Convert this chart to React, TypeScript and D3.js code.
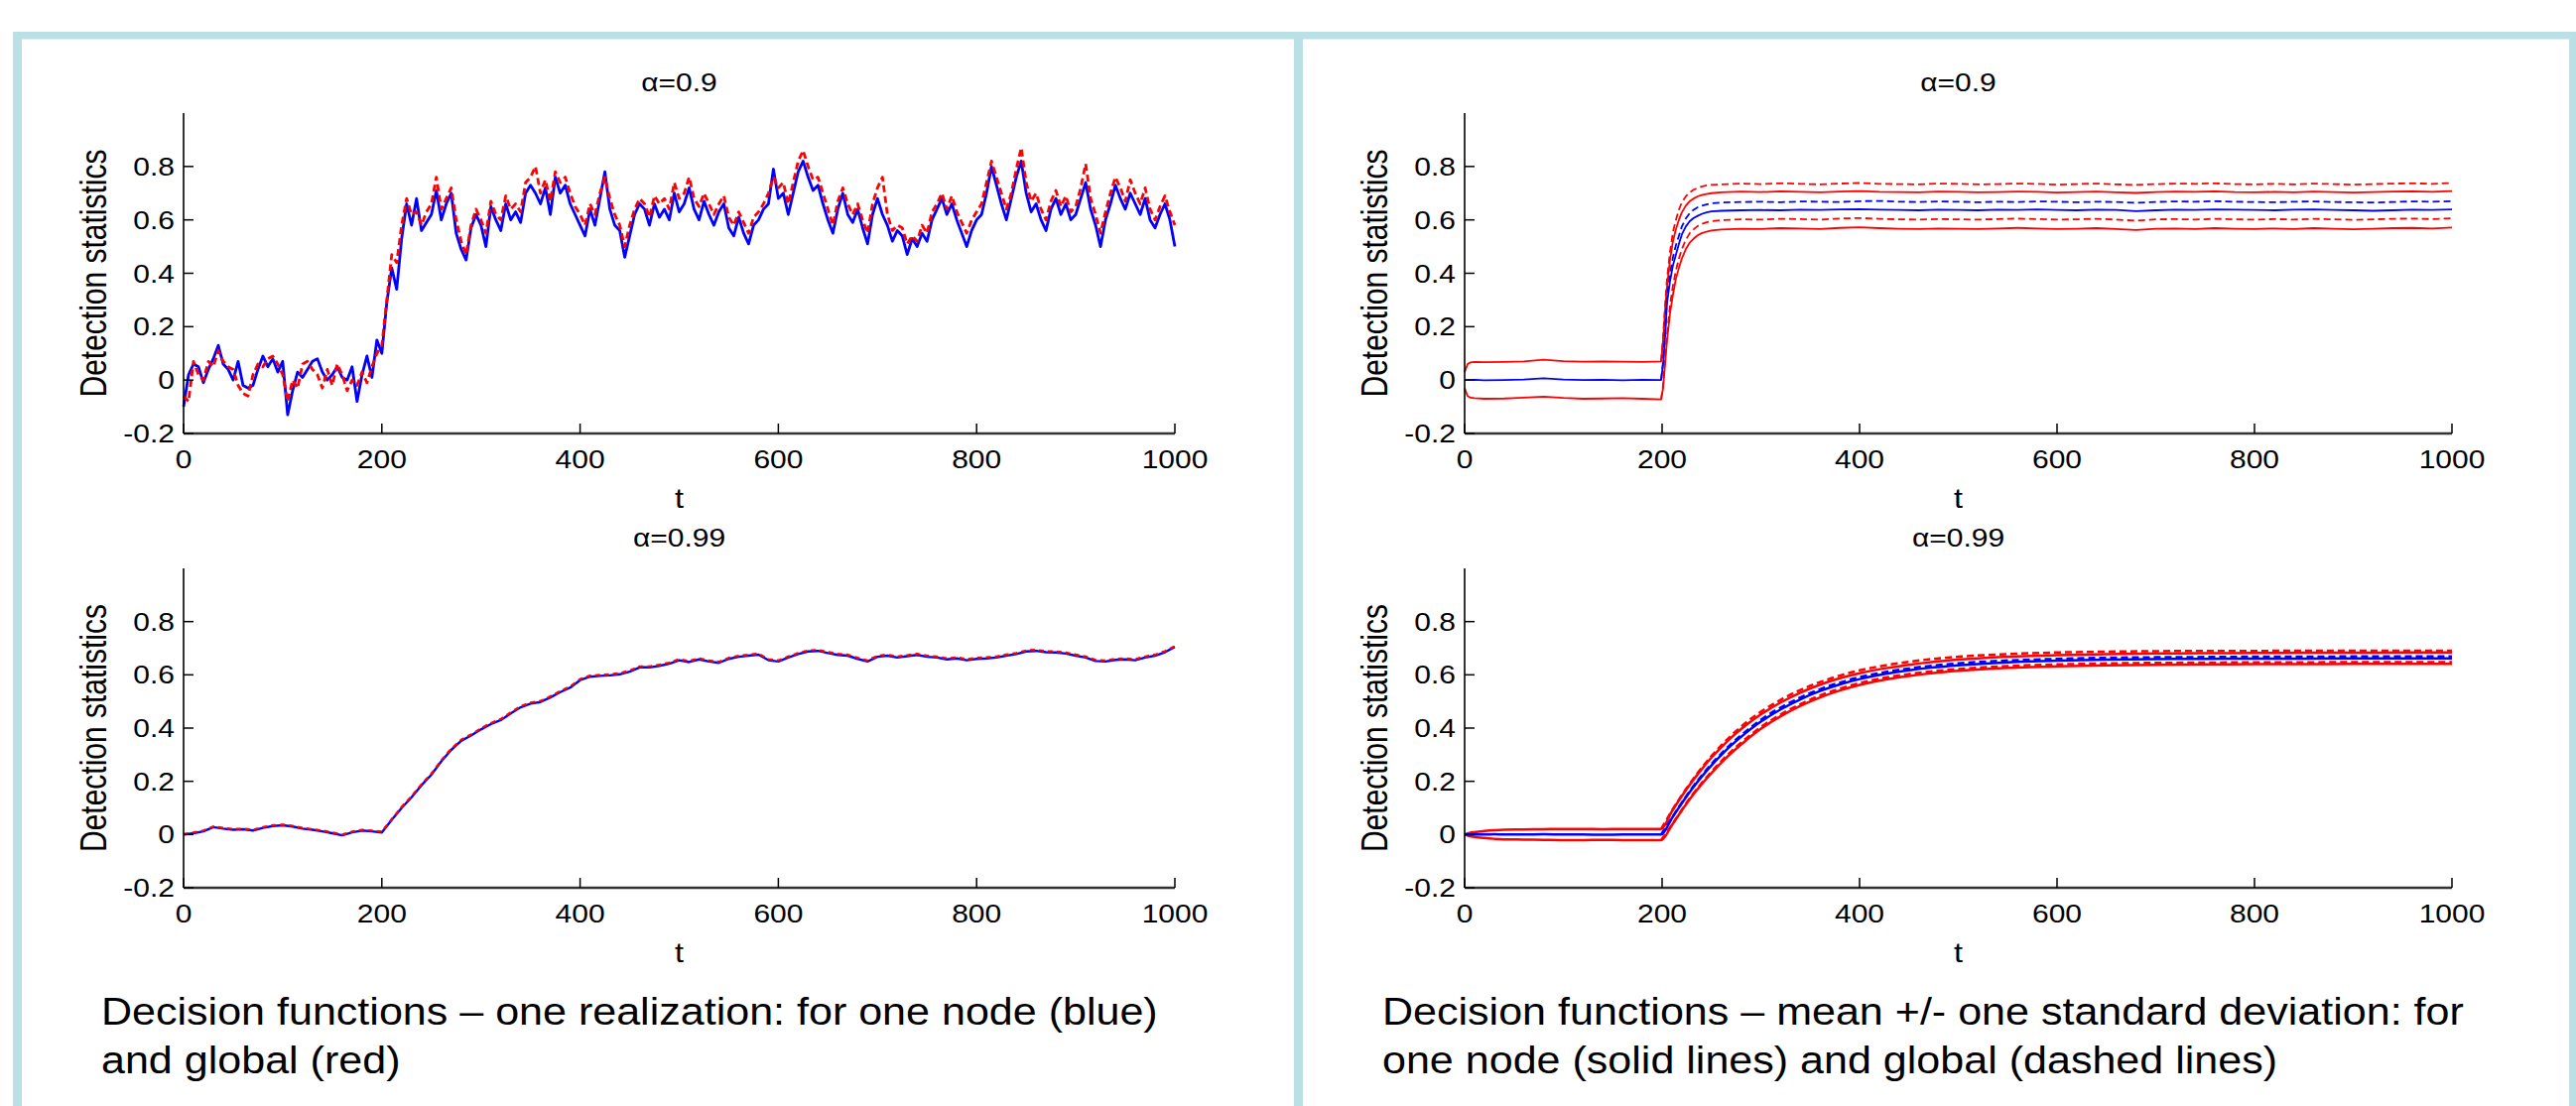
import React, { useEffect } from "react";
import * as d3 from "d3";

// ---------- tick labels ----------
const yTickValues = [-0.2, 0, 0.2, 0.4, 0.6, 0.8];
const yTickLabels = ["-0.2", "0", "0.2", "0.4", "0.6", "0.8"];
const xTickValues = [0, 200, 400, 600, 800, 1000];
const xTickLabels = ["0", "200", "400", "600", "800", "1000"];

// ---------- top-left: one realization, alpha = 0.9 (t = 0..1000 step 5) ----------
const tStep5 = d3.range(0, 1001, 5);
const nodeReal09 = [
  -0.10, 0.02, 0.06, 0.05, -0.01, 0.04, 0.08, 0.13, 0.06, 0.04,
  0.00, 0.07, -0.02, -0.03, -0.02, 0.04, 0.09, 0.05, 0.08, 0.03,
  0.07, -0.13, -0.04, 0.03, 0.01, 0.04, 0.07, 0.08, 0.03, 0.00,
  0.02, 0.05, 0.01, 0.00, 0.05, -0.08, 0.02, 0.09, 0.01, 0.15,
  0.10, 0.29, 0.42, 0.34, 0.53, 0.66, 0.58, 0.68, 0.56, 0.59,
  0.62, 0.71, 0.60, 0.66, 0.70, 0.55, 0.49, 0.45, 0.57, 0.62,
  0.58, 0.50, 0.65, 0.60, 0.56, 0.66, 0.60, 0.63, 0.59, 0.70,
  0.73, 0.70, 0.66, 0.72, 0.62, 0.76, 0.70, 0.73, 0.66, 0.62,
  0.58, 0.54, 0.64, 0.58, 0.68, 0.78, 0.64, 0.58, 0.56, 0.46,
  0.54, 0.62, 0.66, 0.64, 0.58, 0.66, 0.61, 0.64, 0.60, 0.70,
  0.63, 0.66, 0.72, 0.64, 0.60, 0.67, 0.62, 0.58, 0.63, 0.66,
  0.57, 0.54, 0.61, 0.55, 0.51, 0.58, 0.60, 0.64, 0.66, 0.79,
  0.68, 0.70, 0.62, 0.70, 0.78, 0.82, 0.76, 0.71, 0.73, 0.66,
  0.60, 0.55, 0.64, 0.70, 0.62, 0.59, 0.64, 0.57, 0.51, 0.62,
  0.68, 0.62, 0.58, 0.52, 0.56, 0.54, 0.47, 0.53, 0.50, 0.55,
  0.52, 0.60, 0.64, 0.68, 0.62, 0.66, 0.60, 0.55, 0.50, 0.56,
  0.60, 0.62, 0.70, 0.80, 0.73, 0.66, 0.60, 0.68, 0.76, 0.82,
  0.70, 0.63, 0.66, 0.60, 0.56, 0.64, 0.68, 0.62, 0.66, 0.60,
  0.62, 0.68, 0.74, 0.64, 0.58, 0.50, 0.60, 0.66, 0.73, 0.68,
  0.64, 0.70, 0.66, 0.62, 0.68, 0.60, 0.57, 0.62, 0.66, 0.60,
  0.50,
];
const globalReal09 = [
  -0.06, -0.08, 0.07, 0.02, 0.00, 0.07, 0.05, 0.11, 0.07, 0.05,
  0.04, -0.02, -0.05, -0.06, 0.02, 0.06, 0.05, 0.08, 0.09, 0.06,
  0.02, -0.08, 0.00, -0.03, 0.06, 0.07, 0.04, 0.02, -0.03, 0.04,
  -0.02, 0.06, 0.02, -0.04, 0.00, -0.02, 0.03, -0.01, 0.05, 0.10,
  0.13, 0.30, 0.47, 0.44, 0.58, 0.68, 0.62, 0.63, 0.58, 0.63,
  0.66, 0.76, 0.64, 0.68, 0.72, 0.60, 0.52, 0.47, 0.58, 0.64,
  0.60, 0.55, 0.67, 0.62, 0.60, 0.69, 0.64, 0.66, 0.63, 0.74,
  0.76, 0.80, 0.70, 0.75, 0.67, 0.78, 0.74, 0.76, 0.70, 0.65,
  0.62, 0.58, 0.66, 0.62, 0.70, 0.76, 0.68, 0.62, 0.58, 0.50,
  0.58, 0.64, 0.68, 0.66, 0.61, 0.69, 0.66, 0.68, 0.64, 0.74,
  0.68, 0.70, 0.76, 0.68, 0.65, 0.70, 0.66, 0.62, 0.66, 0.69,
  0.61, 0.58, 0.63, 0.59, 0.55, 0.61, 0.63, 0.66, 0.70, 0.76,
  0.72, 0.74, 0.66, 0.74, 0.82, 0.86, 0.80, 0.75, 0.76, 0.70,
  0.64, 0.58, 0.67, 0.72, 0.66, 0.62, 0.66, 0.60, 0.55, 0.66,
  0.72, 0.76, 0.62, 0.56, 0.58, 0.57, 0.51, 0.54, 0.52, 0.58,
  0.55, 0.63, 0.66, 0.70, 0.64, 0.69, 0.63, 0.59, 0.55, 0.60,
  0.63, 0.66, 0.74, 0.82, 0.76, 0.70, 0.64, 0.70, 0.79, 0.87,
  0.74, 0.67, 0.70, 0.64, 0.60, 0.67, 0.71, 0.65, 0.69, 0.63,
  0.65, 0.72, 0.81, 0.68, 0.62, 0.55, 0.63, 0.70, 0.76, 0.72,
  0.67, 0.75, 0.70, 0.66, 0.72, 0.64, 0.60, 0.65, 0.69, 0.63,
  0.58,
];

// ---------- bottom-left: one realization, alpha = 0.99 (t = 0..1000 step 10) ----------
const tStep10 = d3.range(0, 1001, 10);
const nodeReal099 = [
  0.000, 0.005, 0.012, 0.028, 0.022, 0.018, 0.020, 0.015, 0.025, 0.032,
  0.035, 0.030, 0.022, 0.018, 0.012, 0.005, -0.003, 0.008, 0.015, 0.012,
  0.008, 0.055, 0.100, 0.140, 0.185, 0.225, 0.275, 0.318, 0.352, 0.372,
  0.395, 0.415, 0.430, 0.455, 0.478, 0.492, 0.498, 0.515, 0.535, 0.552,
  0.580, 0.593, 0.596, 0.598, 0.602, 0.612, 0.628, 0.628, 0.634, 0.642,
  0.655, 0.648, 0.658, 0.650, 0.645, 0.660, 0.668, 0.672, 0.676, 0.655,
  0.650, 0.665, 0.678, 0.688, 0.690, 0.682, 0.675, 0.672, 0.660, 0.650,
  0.668, 0.672, 0.665, 0.670, 0.675, 0.668, 0.665, 0.658, 0.662, 0.655,
  0.660, 0.662, 0.665, 0.672, 0.678, 0.688, 0.690, 0.685, 0.684, 0.680,
  0.672, 0.665, 0.652, 0.650, 0.656, 0.658, 0.655, 0.665, 0.672, 0.685,
  0.705,
];
const globalReal099 = [
  0.002, 0.008, 0.015, 0.030, 0.025, 0.021, 0.022, 0.018, 0.028, 0.035,
  0.037, 0.033, 0.025, 0.020, 0.015, 0.008, 0.000, 0.011, 0.018, 0.015,
  0.011, 0.058, 0.104, 0.144, 0.189, 0.229, 0.279, 0.322, 0.356, 0.376,
  0.399, 0.419, 0.434, 0.459, 0.482, 0.496, 0.502, 0.519, 0.539, 0.556,
  0.584, 0.597, 0.600, 0.602, 0.606, 0.616, 0.632, 0.632, 0.638, 0.646,
  0.659, 0.652, 0.662, 0.654, 0.649, 0.664, 0.672, 0.676, 0.680, 0.659,
  0.654, 0.669, 0.682, 0.692, 0.694, 0.686, 0.679, 0.676, 0.664, 0.654,
  0.672, 0.676, 0.669, 0.674, 0.679, 0.672, 0.669, 0.662, 0.666, 0.659,
  0.664, 0.666, 0.669, 0.676, 0.682, 0.692, 0.694, 0.689, 0.688, 0.684,
  0.676, 0.669, 0.656, 0.654, 0.660, 0.662, 0.659, 0.669, 0.676, 0.689,
  0.708,
];

// ---------- top-right: mean +/- std, alpha = 0.9 ----------
const tNode09 = [
  0, 3, 6, 10, 20, 40, 60, 80, 100, 120, 140, 160, 180, 199,
  201, 203, 205, 208, 211, 214, 217, 220, 224, 228, 232, 236, 240, 245, 250,
  260, 280, 300, 320, 340, 360, 380, 400, 420, 440, 460, 480, 500, 520, 540,
  560, 580, 600, 620, 640, 660, 680, 700, 720, 740, 760, 780, 800, 820, 840,
  860, 880, 900, 920, 940, 960, 980, 1000,
];
const nodeMean09 = [
  0.000, 0.000, 0.000, 0.001, -0.001, 0.000, 0.002, 0.007, 0.002, 0.000, 0.001, -0.001, 0.001, 0.000,
  0.06, 0.16, 0.29, 0.37, 0.43, 0.47, 0.51, 0.545, 0.575, 0.595, 0.607, 0.615, 0.622, 0.628, 0.632,
  0.634, 0.636, 0.637, 0.636, 0.638, 0.637, 0.639, 0.640, 0.638, 0.637, 0.636, 0.638, 0.637, 0.636,
  0.638, 0.637, 0.639, 0.637, 0.636, 0.638, 0.637, 0.633, 0.636, 0.638, 0.637, 0.639, 0.638, 0.637,
  0.636, 0.638, 0.639, 0.637, 0.636, 0.634, 0.636, 0.638, 0.637, 0.639,
];
const nodeUpper09 = [
  0.030, 0.060, 0.066, 0.068, 0.067, 0.068, 0.070, 0.076, 0.071, 0.069, 0.070, 0.069, 0.068, 0.070,
  0.15, 0.26, 0.35, 0.45, 0.52, 0.565, 0.60, 0.628, 0.653, 0.670, 0.680, 0.688, 0.693, 0.697, 0.700,
  0.703, 0.706, 0.704, 0.707, 0.705, 0.703, 0.706, 0.708, 0.705, 0.704, 0.703, 0.706, 0.705, 0.703,
  0.704, 0.706, 0.705, 0.702, 0.704, 0.706, 0.703, 0.701, 0.704, 0.706, 0.705, 0.707, 0.704, 0.703,
  0.705, 0.703, 0.706, 0.704, 0.702, 0.704, 0.706, 0.707, 0.705, 0.708,
];
const nodeLower09 = [
  -0.030, -0.060, -0.066, -0.068, -0.070, -0.069, -0.066, -0.062, -0.067, -0.070, -0.069, -0.068, -0.070, -0.072,
  -0.03, 0.06, 0.15, 0.25, 0.32, 0.38, 0.42, 0.455, 0.49, 0.515, 0.53, 0.542, 0.55, 0.556, 0.560,
  0.564, 0.567, 0.566, 0.569, 0.568, 0.566, 0.570, 0.572, 0.569, 0.567, 0.566, 0.568, 0.567, 0.566,
  0.568, 0.570, 0.568, 0.566, 0.567, 0.569, 0.566, 0.562, 0.567, 0.568, 0.566, 0.569, 0.567, 0.566,
  0.568, 0.566, 0.569, 0.567, 0.565, 0.567, 0.569, 0.570, 0.568, 0.571,
];
const tGlobal09 = [
  199, 201, 203, 205, 208, 211, 214, 217, 220, 224, 228, 232, 236, 240, 245, 250,
  260, 280, 300, 320, 340, 360, 380, 400, 420, 440, 460, 480, 500, 520, 540,
  560, 580, 600, 620, 640, 660, 680, 700, 720, 740, 760, 780, 800, 820, 840,
  860, 880, 900, 920, 940, 960, 980, 1000,
];
const globalMean09 = [
  0.000, 0.07, 0.18, 0.31, 0.40, 0.46, 0.505, 0.54, 0.575, 0.605, 0.625, 0.638, 0.647, 0.653, 0.658, 0.662,
  0.665, 0.667, 0.668, 0.666, 0.669, 0.668, 0.667, 0.670, 0.671, 0.668, 0.667, 0.669, 0.668, 0.666,
  0.668, 0.667, 0.669, 0.668, 0.666, 0.668, 0.667, 0.664, 0.667, 0.669, 0.668, 0.670, 0.668, 0.667,
  0.666, 0.668, 0.669, 0.667, 0.666, 0.665, 0.667, 0.669, 0.668, 0.670,
];
const globalUpper09 = [
  0.070, 0.16, 0.28, 0.38, 0.48, 0.555, 0.60, 0.638, 0.665, 0.688, 0.703, 0.713, 0.720, 0.725, 0.729, 0.731,
  0.733, 0.736, 0.734, 0.737, 0.735, 0.733, 0.736, 0.738, 0.735, 0.734, 0.733, 0.736, 0.735, 0.733,
  0.734, 0.736, 0.735, 0.732, 0.734, 0.736, 0.733, 0.731, 0.734, 0.736, 0.735, 0.737, 0.734, 0.733,
  0.735, 0.733, 0.736, 0.734, 0.732, 0.734, 0.736, 0.737, 0.735, 0.738,
];
const globalLower09 = [
  -0.072, -0.02, 0.08, 0.17, 0.28, 0.355, 0.41, 0.455, 0.49, 0.525, 0.55, 0.565, 0.577, 0.585, 0.591, 0.595,
  0.599, 0.602, 0.601, 0.604, 0.603, 0.601, 0.605, 0.607, 0.604, 0.602, 0.601, 0.603, 0.602, 0.601,
  0.603, 0.605, 0.603, 0.601, 0.602, 0.604, 0.601, 0.597, 0.602, 0.603, 0.601, 0.604, 0.602, 0.601,
  0.603, 0.601, 0.604, 0.602, 0.600, 0.602, 0.604, 0.605, 0.603, 0.606,
];

// ---------- bottom-right: mean +/- std, alpha = 0.99 ----------
const tNode099 = [
  0, 5, 10, 20, 30, 40, 60, 80, 100, 120, 140, 160, 180, 199,
  210, 220, 230, 240, 250, 260, 270, 280, 290, 300, 320, 340, 360, 380, 400,
  425, 450, 475, 500, 550, 600, 650, 700, 750, 800, 850, 900, 950, 1000,
];
const nodeMean099 = [
  0.000, 0.000, 0.000, 0.000, 0.001, 0.000, 0.000, 0.001, 0.000, 0.000, -0.001, 0.000, 0.000, 0.000,
  0.062, 0.118, 0.170, 0.217, 0.260, 0.299, 0.335, 0.367, 0.397, 0.424, 0.470, 0.508, 0.539, 0.564, 0.584,
  0.603, 0.617, 0.628, 0.636, 0.647, 0.653, 0.657, 0.659, 0.660, 0.661, 0.661, 0.662, 0.662, 0.662,
];
const nodeUpper099 = [
  0.000, 0.006, 0.009, 0.013, 0.016, 0.018, 0.019, 0.020, 0.021, 0.021, 0.020, 0.021, 0.021, 0.021,
  0.088, 0.145, 0.197, 0.245, 0.289, 0.328, 0.364, 0.396, 0.425, 0.451, 0.496, 0.533, 0.563, 0.587, 0.606,
  0.624, 0.638, 0.649, 0.657, 0.668, 0.674, 0.678, 0.680, 0.681, 0.682, 0.683, 0.683, 0.684, 0.684,
];
const nodeLower099 = [
  0.000, -0.006, -0.009, -0.013, -0.016, -0.018, -0.019, -0.020, -0.021, -0.021, -0.020, -0.021, -0.021, -0.021,
  0.036, 0.091, 0.143, 0.189, 0.231, 0.270, 0.306, 0.338, 0.369, 0.397, 0.444, 0.483, 0.515, 0.541, 0.562,
  0.582, 0.596, 0.607, 0.615, 0.626, 0.632, 0.636, 0.638, 0.639, 0.640, 0.640, 0.641, 0.641, 0.641,
];
const tGlobal099 = [
  199, 210, 220, 230, 240, 250, 260, 270, 280, 290, 300, 320, 340, 360, 380, 400,
  425, 450, 475, 500, 550, 600, 650, 700, 750, 800, 850, 900, 950, 1000,
];
const globalMean099 = [
  0.000, 0.063, 0.120, 0.173, 0.221, 0.265, 0.304, 0.341, 0.373, 0.403, 0.431, 0.477, 0.515, 0.546, 0.571, 0.591,
  0.610, 0.624, 0.635, 0.643, 0.654, 0.660, 0.664, 0.666, 0.667, 0.668, 0.668, 0.669, 0.669, 0.669,
];
const globalUpper099 = [
  0.021, 0.090, 0.148, 0.201, 0.250, 0.295, 0.335, 0.372, 0.405, 0.435, 0.461, 0.506, 0.543, 0.573, 0.597, 0.617,
  0.635, 0.649, 0.660, 0.668, 0.678, 0.684, 0.687, 0.689, 0.690, 0.690, 0.691, 0.691, 0.691, 0.691,
];
const globalLower099 = [
  -0.021, 0.037, 0.093, 0.146, 0.193, 0.236, 0.276, 0.312, 0.345, 0.376, 0.404, 0.451, 0.490, 0.522, 0.548, 0.569,
  0.589, 0.603, 0.614, 0.622, 0.633, 0.639, 0.643, 0.645, 0.646, 0.647, 0.647, 0.648, 0.648, 0.648,
];

// ---------- texts ----------
const titles = ["α=0.9", "α=0.99"];
const yLabel = "Detection statistics";
const xLabel = "t";
const captionLeft = ["Decision functions – one realization: for one node (blue)", "and global (red)"];
const captionRight = [
  "Decision functions – mean +/- one standard deviation: for",
  "one node (solid lines) and global (dashed lines)",
];

const FONT = "'Liberation Sans', Arial, Helvetica, sans-serif";
const RED = "#ff0000";
const BLUE = "#0000ff";
const BORDER = "#b9e0e4";
const SX = 1.2; // horizontal stretch of the figure text

type Series = { t: number[]; v: number[]; color: string; dash?: string; width: number; smooth?: boolean };

function Plot({ x0, x1, yTop, yBot, title, series }: { x0: number; x1: number; yTop: number; yBot: number; title: string; series: Series[] }) {
  const x = d3.scaleLinear().domain([0, 1000]).range([x0, x1]);
  const y = d3.scaleLinear().domain([-0.2, 1.0]).range([yBot, yTop]);
  const cx = (x0 + x1) / 2;
  const cy = (yTop + yBot) / 2;
  return (
    <g>
      {series.map((s, i) => {
        const line = d3
          .line<number>()
          .x((_, j) => x(s.t[j]))
          .y((d) => y(d))
          .curve(s.smooth ? d3.curveMonotoneX : d3.curveLinear);
        return (
          <path
            key={i}
            d={line(s.v) || ""}
            fill="none"
            stroke={s.color}
            strokeWidth={s.width}
            strokeDasharray={s.dash}
            strokeLinejoin="round"
          />
        );
      })}
      {/* axes */}
      <line x1={x0} y1={yTop} x2={x0} y2={yBot} stroke="#000" strokeWidth={1.6} />
      <line x1={x0} y1={yBot} x2={x1} y2={yBot} stroke="#333" strokeWidth={2.6} />
      {yTickValues.map((v, i) => (
        <g key={"yt" + i}>
          <line x1={x0} x2={x0 + 10} y1={y(v)} y2={y(v)} stroke="#000" strokeWidth={1.5} />
          <text
            transform={`translate(${x0 - 9},${y(v) + 9}) scale(${SX},1)`}
            textAnchor="end"
            fontFamily={FONT}
            fontSize={25}
            fill="#000"
          >
            {yTickLabels[i]}
          </text>
        </g>
      ))}
      {xTickValues.map((v, i) => (
        <g key={"xt" + i}>
          <line x1={x(v)} x2={x(v)} y1={yBot} y2={yBot - 10} stroke="#000" strokeWidth={1.5} />
          <text
            transform={`translate(${x(v)},${yBot + 35}) scale(${SX},1)`}
            textAnchor="middle"
            fontFamily={FONT}
            fontSize={25}
            fill="#000"
          >
            {xTickLabels[i]}
          </text>
        </g>
      ))}
      <text
        transform={`translate(${cx},${yBot + 75}) scale(${SX},1)`}
        textAnchor="middle"
        fontFamily={FONT}
        fontSize={27}
        fill="#000"
      >
        {xLabel}
      </text>
      <text
        transform={`translate(${cx},${yTop - 22}) scale(${SX},1)`}
        textAnchor="middle"
        fontFamily={FONT}
        fontSize={25}
        fill="#000"
      >
        {title}
      </text>
      <text
        transform={`translate(${x0 - 78},${cy}) scale(${SX},1) rotate(-90)`}
        textAnchor="middle"
        fontFamily={FONT}
        fontSize={30}
        fill="#000"
      >
        {yLabel}
      </text>
    </g>
  );
}

export default function App() {
  useEffect(() => {
    document.body.style.margin = "0";
  }, []);

  const L = { x0: 185, x1: 1184 };
  const R = { x0: 1476, x1: 2471 };
  const TOP = { yTop: 114, yBot: 437 };
  const BOT = { yTop: 573, yBot: 895 };

  const realTop: Series[] = [
    { t: tStep5, v: nodeReal09, color: BLUE, width: 2.8 },
    { t: tStep5, v: globalReal09, color: RED, width: 2.8, dash: "7,4" },
  ];
  const realBot: Series[] = [
    { t: tStep10, v: nodeReal099, color: BLUE, width: 2.4 },
    { t: tStep10, v: globalReal099, color: RED, width: 2.2, dash: "5,4" },
  ];
  const meanTop: Series[] = [
    { t: tNode09, v: nodeUpper09, color: RED, width: 1.8 },
    { t: tNode09, v: nodeLower09, color: RED, width: 1.8 },
    { t: tNode09, v: nodeMean09, color: BLUE, width: 1.8 },
    { t: tGlobal09, v: globalUpper09, color: RED, width: 1.8, dash: "7,4" },
    { t: tGlobal09, v: globalLower09, color: RED, width: 1.8, dash: "7,4" },
    { t: tGlobal09, v: globalMean09, color: BLUE, width: 1.8, dash: "7,4" },
  ];
  const meanBot: Series[] = [
    { t: tNode099, v: nodeUpper099, color: RED, width: 2.5, smooth: true },
    { t: tNode099, v: nodeLower099, color: RED, width: 2.5, smooth: true },
    { t: tNode099, v: nodeMean099, color: BLUE, width: 2.5, smooth: true },
    { t: tGlobal099, v: globalUpper099, color: RED, width: 2.5, dash: "7,4", smooth: true },
    { t: tGlobal099, v: globalLower099, color: RED, width: 2.5, dash: "7,4", smooth: true },
    { t: tGlobal099, v: globalMean099, color: BLUE, width: 2.5, dash: "7,4", smooth: true },
  ];

  const capStyle = { fontFamily: FONT, fontSize: 39, fill: "#000" } as const;

  return (
    <svg
      width={2596}
      height={1115}
      style={{ position: "absolute", left: 0, top: 0, background: "#fff" }}
      xmlns="http://www.w3.org/2000/svg"
    >
      <rect x={0} y={0} width={2596} height={1115} fill="#fff" />
      {/* panel borders */}
      <rect x={13} y={32} width={2583} height={7.5} fill={BORDER} />
      <rect x={13} y={32} width={9} height={1083} fill={BORDER} />
      <rect x={1304} y={32} width={9} height={1083} fill={BORDER} />
      <rect x={2589} y={32} width={7} height={1083} fill={BORDER} />

      <Plot {...L} {...TOP} title={titles[0]} series={realTop} />
      <Plot {...L} {...BOT} title={titles[1]} series={realBot} />
      <Plot {...R} {...TOP} title={titles[0]} series={meanTop} />
      <Plot {...R} {...BOT} title={titles[1]} series={meanBot} />

      {captionLeft.map((c, i) => (
        <text key={"cl" + i} transform={`translate(102,${1033 + i * 49}) scale(1.104,1)`} {...capStyle}>
          {c}
        </text>
      ))}
      {captionRight.map((c, i) => (
        <text key={"cr" + i} transform={`translate(1393,${1033 + i * 49}) scale(1.104,1)`} {...capStyle}>
          {c}
        </text>
      ))}
    </svg>
  );
}
